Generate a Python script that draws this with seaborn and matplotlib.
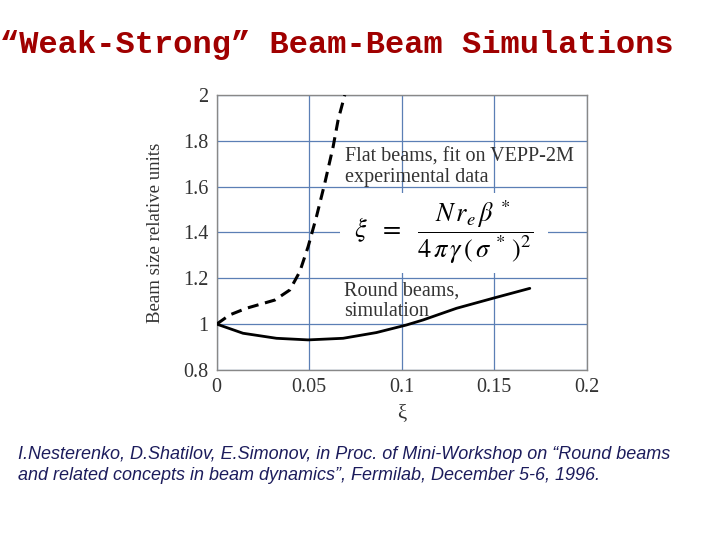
"""Weak-strong beam-beam simulation: beam size vs beam-beam parameter."""

import matplotlib
matplotlib.use("Agg")
import matplotlib.pyplot as plt
from matplotlib.patches import Rectangle
import pandas as pd
import seaborn as sns

# flat beams, fit on VEPP-2M data (dashed)
flat_xi = [0.0, 0.007, 0.016, 0.0314, 0.0395, 0.0449, 0.0494, 0.0539, 0.0584, 0.0629, 0.0656, 0.0692]
flat_size = [1.0, 1.04, 1.069, 1.105, 1.149, 1.229, 1.338, 1.469, 1.615, 1.774, 1.891, 2.0]

# round beams, simulation (solid)
round_xi = [0.0, 0.0142, 0.0323, 0.0494, 0.0683, 0.0863, 0.1025, 0.1115, 0.1296, 0.1494, 0.1692]
round_size = [1.0, 0.96, 0.938, 0.931, 0.938, 0.963, 0.996, 1.018, 1.069, 1.113, 1.156]

x_ticks = [0, 0.05, 0.1, 0.15, 0.2]
x_tick_labels = ["0", "0.05", "0.1", "0.15", "0.2"]
y_ticks = [0.8, 1.0, 1.2, 1.4, 1.6, 1.8, 2.0]
y_tick_labels = ["0.8", "1", "1.2", "1.4", "1.6", "1.8", "2"]

title = "\u201cWeak-Strong\u201d Beam-Beam Simulations"
citation = ("I.Nesterenko, D.Shatilov, E.Simonov, in Proc. of Mini-Workshop on \u201cRound beams\n"
            "and related concepts in beam dynamics\u201d, Fermilab, December 5-6, 1996.")
formula = (r"$\xi\ \ =\ \ \dfrac{N\,r_e\,\beta^{\,*}}"
           r"{4\,\pi\,\gamma\,(\,\sigma^{\,*}\,)^{2}}$")

sns.set_theme(style="whitegrid")
plt.rcParams["font.family"] = ["Liberation Serif", "DejaVu Serif"]
plt.rcParams["mathtext.fontset"] = "stix"

fig = plt.figure(figsize=(7.2, 5.4), dpi=100)
ax = fig.add_axes([0.301, 0.315, 0.514, 0.509])

flat_df = pd.DataFrame({"xi": flat_xi, "size": flat_size})
round_df = pd.DataFrame({"xi": round_xi, "size": round_size})
sns.lineplot(data=flat_df, x="xi", y="size", ax=ax, color="black", linewidth=2.2,
             linestyle=(0, (3.6, 2.2)), sort=False, zorder=4)
sns.lineplot(data=round_df, x="xi", y="size", ax=ax, color="black", linewidth=2.0,
             sort=False, zorder=4)

ax.set_xlim(0, 0.2)
ax.set_ylim(0.8, 2.0)
ax.set_xticks(x_ticks)
ax.set_xticklabels(x_tick_labels)
ax.set_yticks(y_ticks)
ax.set_yticklabels(y_tick_labels)
ax.tick_params(labelsize=14.5, colors="#333333", length=0, pad=6)
ax.grid(True, color="#5b7fb5", linewidth=0.9)
for spine in ax.spines.values():
    spine.set_color("#888888")
    spine.set_linewidth(1.0)
ax.set_xlabel("\u03be", fontsize=15, color="#333333", labelpad=5)
ax.set_ylabel("Beam size relative units", fontsize=13.5, color="#333333", labelpad=14)

# white patch behind the formula, hiding the grid
ax.add_patch(Rectangle((0.0665, 1.223), 0.1125, 0.349, facecolor="white",
                       edgecolor="none", zorder=2))

label_kw = dict(fontsize=14.5, va="center", ha="left", color="#333333", zorder=5)
ax.text(0.0692, 1.729, "Flat beams, fit on VEPP-2M", **label_kw)
ax.text(0.0692, 1.638, "experimental data", **label_kw)
ax.text(0.0686, 1.145, "Round beams,", **label_kw)
ax.text(0.0686, 1.057, "simulation", **label_kw)
ax.text(0.1225, 1.40, formula, fontsize=19, ha="center", va="center", color="black",
        zorder=5)

fig.text(0.0, 0.917, title, fontsize=23, fontweight="bold", color="#a00000",
         family="Liberation Mono", ha="left", va="center")
fig.text(0.025, 0.174, citation, fontsize=13, style="italic", color="#1c1c5c",
         family="Liberation Sans", ha="left", va="top", linespacing=1.3)

fig.savefig("out.png", dpi=100)
